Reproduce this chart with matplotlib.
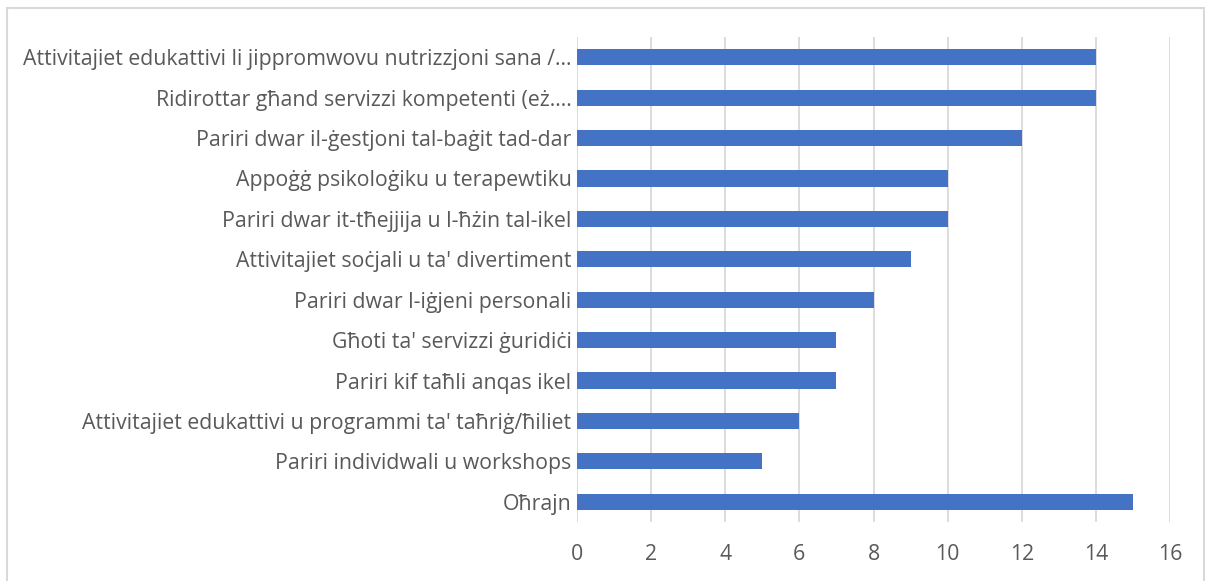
#!/usr/bin/env python3

""" Horizontal bar chart of services requested """

import matplotlib.pyplot as plt
from matplotlib.patches import Rectangle

categories = [
    'Attivitajiet edukattivi li jippromwovu nutrizzjoni sana /...',
    'Ridirottar għand servizzi kompetenti (eż....',
    'Pariri dwar il-ġestjoni tal-baġit tad-dar',
    'Appoġġ psikoloġiku u terapewtiku',
    'Pariri dwar it-tħejjija u l-ħżin tal-ikel',
    "Attivitajiet soċjali u ta' divertiment",
    'Pariri dwar l-iġjeni personali',
    "Għoti ta' servizzi ġuridiċi",
    'Pariri kif taħli anqas ikel',
    "Attivitajiet edukattivi u programmi ta' taħriġ/ħiliet",
    'Pariri individwali u workshops',
    'Oħrajn',
]
values = [14, 14, 12, 10, 10, 9, 8, 7, 7, 6, 5, 15]
xTicks = [0, 2, 4, 6, 8, 10, 12, 14, 16]

textColour = '#595959'
plt.rcParams['font.family'] = ['Open Sans', 'DejaVu Sans']

fig = plt.figure(figsize=(12.05, 5.81), dpi=100)
ax = fig.add_axes([0.4788, 0.1015, 0.4922, 0.8348])

pos = list(range(len(categories)))
ax.barh(pos, values, height=0.4, color='#4472C4', zorder=3)
ax.set_yticks(pos)
ax.set_yticklabels(categories, fontsize=15.3, color=textColour)
ax.set_ylim(len(categories) - 0.5, -0.5)

ax.set_xlim(0, 16)
ax.set_xticks(xTicks)
ax.set_xticklabels([str(t) for t in xTicks], fontsize=15.3, color=textColour)
ax.xaxis.grid(True, color='#D9D9D9', linewidth=1.3, zorder=0)
ax.tick_params(axis='both', length=0)
ax.tick_params(axis='x', pad=16)
ax.tick_params(axis='y', pad=4)
for spine in ax.spines.values():
    spine.set_visible(False)

# Chart-area border
fig.patches.append(Rectangle(
    (7 / 1205, -0.1), 1197 / 1205, 1.1 - 8 / 581,
    transform=fig.transFigure, fill=False, edgecolor='#D9D9D9', linewidth=1.5))

fig.savefig('out.png', dpi=100)
